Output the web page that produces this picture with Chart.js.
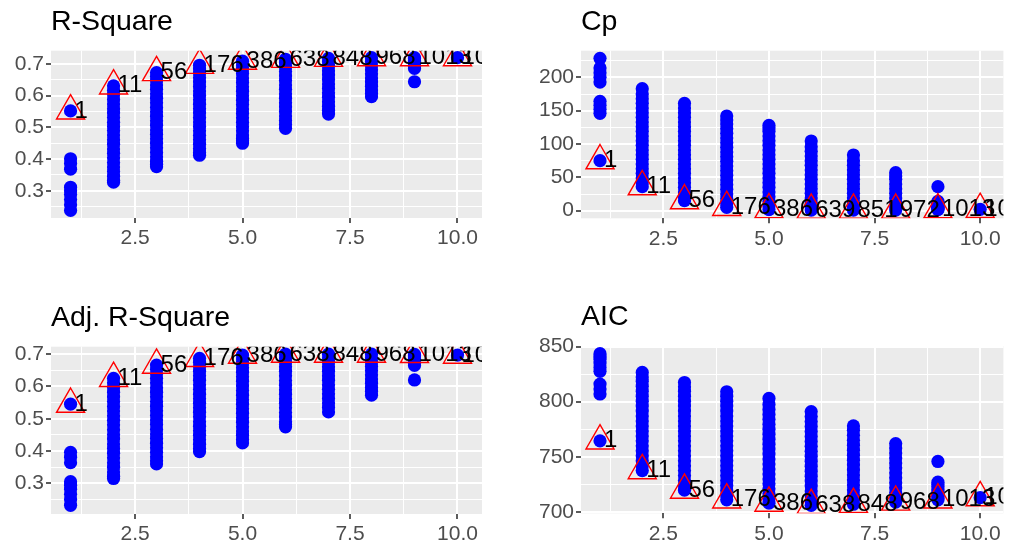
<!DOCTYPE html>
<html>
<head>
<meta charset="utf-8">
<script src="https://cdn.jsdelivr.net/npm/chart.js@4.4.1/dist/chart.umd.min.js"></script>
<style>
  body { margin: 0; background: #fff; overflow: hidden; }
  #wrap { position: relative; width: 1010px; height: 547px; overflow: hidden; }
  canvas { position: absolute; }
</style>
</head>
<body>
<div id="wrap">
  <canvas id="c1" width="505" height="273" style="left:0;top:0"></canvas>
  <canvas id="c2" width="505" height="273" style="left:505px;top:0"></canvas>
  <canvas id="c3" width="505" height="274" style="left:0;top:273px"></canvas>
  <canvas id="c4" width="505" height="274" style="left:505px;top:273px"></canvas>
</div>
<script>
// number of predictors in the model
var sizes = [1, 2, 3, 4, 5, 6, 7, 8, 9, 10];

// R-Square of every model, grouped by size
var rsq = [
  [0.552, 0.401, 0.386, 0.368, 0.311, 0.300, 0.288, 0.272, 0.256, 0.238],
  [0.631, 0.617, 0.604, 0.588, 0.574, 0.559, 0.545, 0.531, 0.516, 0.503, 0.490, 0.476, 0.461, 0.447, 0.432, 0.418, 0.404, 0.389, 0.375, 0.361, 0.346, 0.333, 0.327],
  [0.673, 0.661, 0.648, 0.634, 0.620, 0.606, 0.592, 0.578, 0.563, 0.549, 0.535, 0.521, 0.507, 0.492, 0.478, 0.464, 0.450, 0.436, 0.421, 0.407, 0.393, 0.384, 0.376],
  [0.696, 0.684, 0.671, 0.657, 0.643, 0.629, 0.615, 0.601, 0.587, 0.573, 0.559, 0.545, 0.531, 0.517, 0.503, 0.489, 0.475, 0.461, 0.447, 0.433, 0.421, 0.412],
  [0.709, 0.697, 0.684, 0.670, 0.656, 0.642, 0.628, 0.614, 0.600, 0.586, 0.572, 0.558, 0.544, 0.530, 0.516, 0.502, 0.489, 0.476, 0.465, 0.458, 0.450],
  [0.715, 0.703, 0.690, 0.676, 0.662, 0.648, 0.634, 0.620, 0.606, 0.592, 0.578, 0.564, 0.550, 0.536, 0.522, 0.509, 0.497],
  [0.718, 0.706, 0.693, 0.679, 0.665, 0.651, 0.637, 0.623, 0.609, 0.595, 0.581, 0.567, 0.554, 0.542],
  [0.720, 0.708, 0.695, 0.682, 0.669, 0.656, 0.643, 0.630, 0.618, 0.607, 0.597],
  [0.720, 0.717, 0.713, 0.709, 0.705, 0.701, 0.697, 0.692, 0.686, 0.644],
  [0.720]
];
var rsqBest = [0.552, 0.631, 0.673, 0.696, 0.709, 0.715, 0.718, 0.720, 0.720, 0.720];
var rsqTags = ['1', '11', '56', '176', '386', '638', '848', '968', '1013', '1023'];

// Mallows' Cp
var cp = [
  [75, 146, 152, 158, 164, 193, 200, 207, 214, 228.6],
  [36, 42, 49, 56, 63, 70, 77, 84, 91, 98, 105, 112, 119, 126, 133, 140, 147, 154, 161, 168, 175, 183],
  [15, 21, 28, 35, 42, 49, 56, 63, 70, 77, 84, 91, 98, 105, 112, 119, 126, 133, 140, 147, 154, 161],
  [5, 11, 18, 25, 32, 39, 46, 53, 60, 67, 74, 81, 88, 95, 102, 109, 116, 123, 130, 136, 142],
  [1.5, 7, 14, 21, 28, 35, 42, 49, 56, 63, 70, 77, 84, 91, 98, 105, 112, 119, 124, 128],
  [1, 6, 12, 19, 26, 33, 40, 47, 54, 61, 68, 75, 82, 89, 96, 104.5],
  [1, 6, 12, 19, 26, 33, 40, 47, 54, 61, 68, 75, 83.5],
  [1, 6, 12, 19, 26, 33, 40, 47, 52, 57],
  [1.5, 2.5, 3.5, 5, 6.5, 8, 10, 12, 14, 36],
  [2]
];
var cpBest = [75, 36, 15, 5, 1.5, 1, 1, 1, 1.5, 2];
var cpTags = ['1', '11', '56', '176', '386', '639', '851', '972', '1013', '1023'];

// Adjusted R-Square
var adjrsq = [
  [0.545, 0.396, 0.381, 0.364, 0.305, 0.294, 0.282, 0.266, 0.250, 0.232],
  [0.625, 0.611, 0.597, 0.582, 0.567, 0.553, 0.538, 0.524, 0.509, 0.495, 0.481, 0.466, 0.451, 0.437, 0.422, 0.408, 0.393, 0.379, 0.364, 0.350, 0.335, 0.322, 0.315],
  [0.666, 0.653, 0.639, 0.625, 0.611, 0.596, 0.582, 0.568, 0.553, 0.539, 0.525, 0.510, 0.496, 0.482, 0.467, 0.453, 0.439, 0.424, 0.410, 0.396, 0.382, 0.370, 0.360],
  [0.687, 0.675, 0.661, 0.647, 0.633, 0.619, 0.605, 0.591, 0.576, 0.562, 0.548, 0.534, 0.520, 0.506, 0.491, 0.477, 0.463, 0.449, 0.435, 0.421, 0.408, 0.398],
  [0.697, 0.685, 0.672, 0.658, 0.644, 0.630, 0.616, 0.601, 0.587, 0.573, 0.559, 0.545, 0.531, 0.517, 0.503, 0.489, 0.475, 0.462, 0.449, 0.436, 0.425],
  [0.700, 0.688, 0.675, 0.661, 0.647, 0.633, 0.618, 0.604, 0.590, 0.576, 0.562, 0.548, 0.534, 0.519, 0.505, 0.491, 0.482, 0.475],
  [0.700, 0.688, 0.675, 0.661, 0.647, 0.633, 0.619, 0.605, 0.591, 0.577, 0.563, 0.549, 0.535, 0.521],
  [0.700, 0.688, 0.675, 0.662, 0.649, 0.636, 0.623, 0.610, 0.597, 0.585, 0.573],
  [0.699, 0.696, 0.692, 0.688, 0.684, 0.679, 0.675, 0.670, 0.665, 0.620],
  [0.697]
];
var adjBest = [0.545, 0.625, 0.666, 0.687, 0.697, 0.700, 0.700, 0.700, 0.699, 0.697];
var adjTags = ['1', '11', '56', '176', '386', '638', '848', '968', '1013', '1023'];

// AIC
var aic = [
  [764.5, 807, 811.5, 816, 827.5, 831, 835, 838.5, 841, 843.5],
  [737.5, 742, 746.5, 751, 755.5, 760, 764.5, 769, 773.5, 778, 782.5, 787, 791.5, 796, 800.5, 805, 809.5, 814, 818.5, 822.5, 826.5],
  [719.8, 724, 728.5, 733, 737.5, 742, 746.5, 751, 755.5, 760, 764.5, 769, 773.5, 778, 782.5, 787, 791.5, 796, 800.5, 805, 809.5, 813.5, 817.4],
  [711, 715, 719.5, 724, 728.5, 733, 737.5, 742, 746.5, 751, 755.5, 760, 764.5, 769, 773.5, 778, 782.5, 787, 791.5, 796, 800.5, 805, 809],
  [708, 712, 716.5, 721, 725.5, 730, 734.5, 739, 743.5, 748, 752.5, 757, 761.5, 766, 770.5, 775, 779.5, 784, 788.5, 793, 797.5, 803],
  [706, 710, 714.5, 719, 723.5, 728, 732.5, 737, 741.5, 746, 750.5, 755, 759.5, 764, 768.5, 773, 777.5, 782, 786.5, 791],
  [707, 711, 715.5, 720, 724.5, 729, 733.5, 738, 742.5, 747, 751.5, 756, 760.5, 765, 769.5, 774, 778],
  [709, 713, 717.5, 722, 726.5, 731, 735.5, 740, 744.5, 749, 753.5, 758, 762],
  [711, 712.5, 714, 716, 718, 720.5, 723, 725, 727, 745.8],
  [713]
];
var aicBest = [764.5, 737.5, 719.8, 711, 708, 706, 707, 709, 711, 713];
var aicTags = ['1', '11', '56', '176', '386', '638', '848', '968', '1013', '1023'];

// axis breaks, '' marks a minor grid line
var xTicks = [1.25, 2.5, 3.75, 5, 6.25, 7.5, 8.75, 10];
var xTickLabels = ['', '2.5', '', '5.0', '', '7.5', '', '10.0'];
var rsqTicks = [0.25, 0.3, 0.35, 0.4, 0.45, 0.5, 0.55, 0.6, 0.65, 0.7];
var rsqTickLabels = ['', '0.3', '', '0.4', '', '0.5', '', '0.6', '', '0.7'];
var cpTicks = [0, 25, 50, 75, 100, 125, 150, 175, 200, 225];
var cpTickLabels = ['0', '', '50', '', '100', '', '150', '', '200', ''];
var aicTicks = [700, 725, 750, 775, 800, 825, 850];
var aicTickLabels = ['700', '', '750', '', '800', '', '850'];

var FONT = '"Liberation Sans", Arial, Helvetica, sans-serif';

var panelBg = {
  id: 'panelBg',
  beforeDraw: function(chart) {
    var a = chart.chartArea, ctx = chart.ctx;
    ctx.save();
    ctx.fillStyle = '#EBEBEB';
    ctx.fillRect(a.left, a.top, a.right - a.left, a.bottom - a.top);
    ctx.restore();
  }
};

// model number next to the best model of each size
var bestLabels = {
  id: 'bestLabels',
  afterDatasetsDraw: function(chart, args, opts) {
    var a = chart.chartArea, ctx = chart.ctx;
    var xs = chart.scales.x, ys = chart.scales.y;
    ctx.save();
    ctx.beginPath();
    ctx.rect(a.left, a.top, a.right - a.left, a.bottom - a.top);
    ctx.clip();
    ctx.font = '24px ' + FONT;
    ctx.fillStyle = '#000';
    ctx.textAlign = 'left';
    ctx.textBaseline = 'middle';
    for (var i = 0; i < opts.tags.length; i++) {
      ctx.fillText(opts.tags[i], xs.getPixelForValue(sizes[i]) + 4, ys.getPixelForValue(opts.values[i]));
    }
    ctx.restore();
  }
};

function gridOpts(labels) {
  return {
    color: '#FFFFFF',
    lineWidth: function(c) { return labels[c.index] ? 2 : 1; },
    drawTicks: true,
    tickLength: 5,
    tickWidth: 1.6,
    tickColor: function(c) { return labels[c.index] ? '#333333' : 'rgba(0,0,0,0)'; }
  };
}

function buildChart(canvas, title, vals, best, tags, yr, yTicks, yLabels, xr, box) {
  var pts = [];
  for (var i = 0; i < vals.length; i++) {
    for (var j = 0; j < vals[i].length; j++) pts.push({ x: sizes[i], y: vals[i][j] });
  }
  var bestPts = best.map(function(v, i) { return { x: sizes[i], y: v }; });

  return new Chart(canvas, {
    type: 'scatter',
    data: {
      datasets: [
        {
          data: bestPts,
          pointStyle: 'triangle',
          pointRadius: 16.2,
          borderColor: '#FF0000',
          backgroundColor: 'rgba(0,0,0,0)',
          borderWidth: 1.4,
          clip: 0
        },
        {
          data: pts,
          pointStyle: 'circle',
          pointRadius: 6.6,
          borderWidth: 0,
          backgroundColor: '#0000FF',
          borderColor: '#0000FF',
          clip: 0
        }
      ]
    },
    options: {
      responsive: false,
      animation: false,
      events: [],
      layout: {
        padding: { left: 0, top: 0, right: canvas.width - box.right, bottom: canvas.height - box.bottom - 30 }
      },
      plugins: {
        legend: { display: false },
        tooltip: { enabled: false },
        title: {
          display: true,
          text: title,
          align: 'start',
          fullSize: false,
          color: '#000',
          font: { family: FONT, size: 28.5, weight: 'normal', lineHeight: 1.2 },
          padding: { top: box.top - 34.2 - 11.5, bottom: 11.5 }
        },
        bestLabels: { tags: tags, values: best }
      },
      scales: {
        x: {
          type: 'linear',
          min: xr[0],
          max: xr[1],
          border: { display: false },
          grid: gridOpts(xTickLabels),
          afterBuildTicks: function(s) { s.ticks = xTicks.map(function(v) { return { value: v }; }); },
          afterFit: function(s) {
            s.height = 30;
            s.paddingLeft = 0;
            s.paddingRight = 0;
          },
          ticks: {
            color: '#4D4D4D',
            font: { family: FONT, size: 21 },
            padding: 3,
            maxRotation: 0,
            autoSkip: false,
            callback: function(v, i) { return xTickLabels[i]; }
          }
        },
        y: {
          type: 'linear',
          min: yr[0],
          max: yr[1],
          border: { display: false },
          grid: gridOpts(yLabels),
          afterBuildTicks: function(s) { s.ticks = yTicks.map(function(v) { return { value: v }; }); },
          afterFit: function(s) {
            s.width = box.left;
            s.paddingTop = 0;
            s.paddingBottom = 0;
          },
          ticks: {
            color: '#4D4D4D',
            font: { family: FONT, size: 21 },
            padding: 2,
            autoSkip: false,
            callback: function(v, i) { return yLabels[i]; }
          }
        }
      }
    },
    plugins: [panelBg, bestLabels]
  });
}

// the "10.0" label reserves room on the right; widen the canvas
// (clipped by #wrap) so the panel still reaches its right edge
function makePanel(id, title, vals, best, tags, yr, yTicks, yLabels, xr, box) {
  var canvas = document.getElementById(id);
  var ch = buildChart(canvas, title, vals, best, tags, yr, yTicks, yLabels, xr, box);
  var gap = box.right - ch.chartArea.right;
  if (gap > 0.5) {
    var w = canvas.width, h = canvas.height;
    ch.destroy();
    canvas.width = w + Math.round(gap * 10) / 10;
    canvas.height = h;
    canvas.style.width = canvas.width + 'px';
    canvas.style.height = h + 'px';
    ch = buildChart(canvas, title, vals, best, tags, yr, yTicks, yLabels, xr, box);
  }
  return ch;
}

makePanel('c1', 'R-Square', rsq, rsqBest, rsqTags, [0.214, 0.742], rsqTicks, rsqTickLabels,
  [0.545, 10.57], { left: 51, right: 482, top: 50.7, bottom: 218 });
makePanel('c2', 'Cp', cp, cpBest, cpTags, [-11.4, 240], cpTicks, cpTickLabels,
  [0.55, 10.55], { left: 76, right: 498.5, top: 50.7, bottom: 218.3 });
makePanel('c3', 'Adj. R-Square', adjrsq, adjBest, adjTags, [0.205, 0.723], rsqTicks, rsqTickLabels,
  [0.545, 10.57], { left: 51, right: 482, top: 73.7, bottom: 241 });
makePanel('c4', 'AIC', aic, aicBest, aicTags, [698.8, 850.5], aicTicks, aicTickLabels,
  [0.55, 10.55], { left: 76, right: 498.5, top: 73, bottom: 240.3 });
</script>
</body>
</html>
